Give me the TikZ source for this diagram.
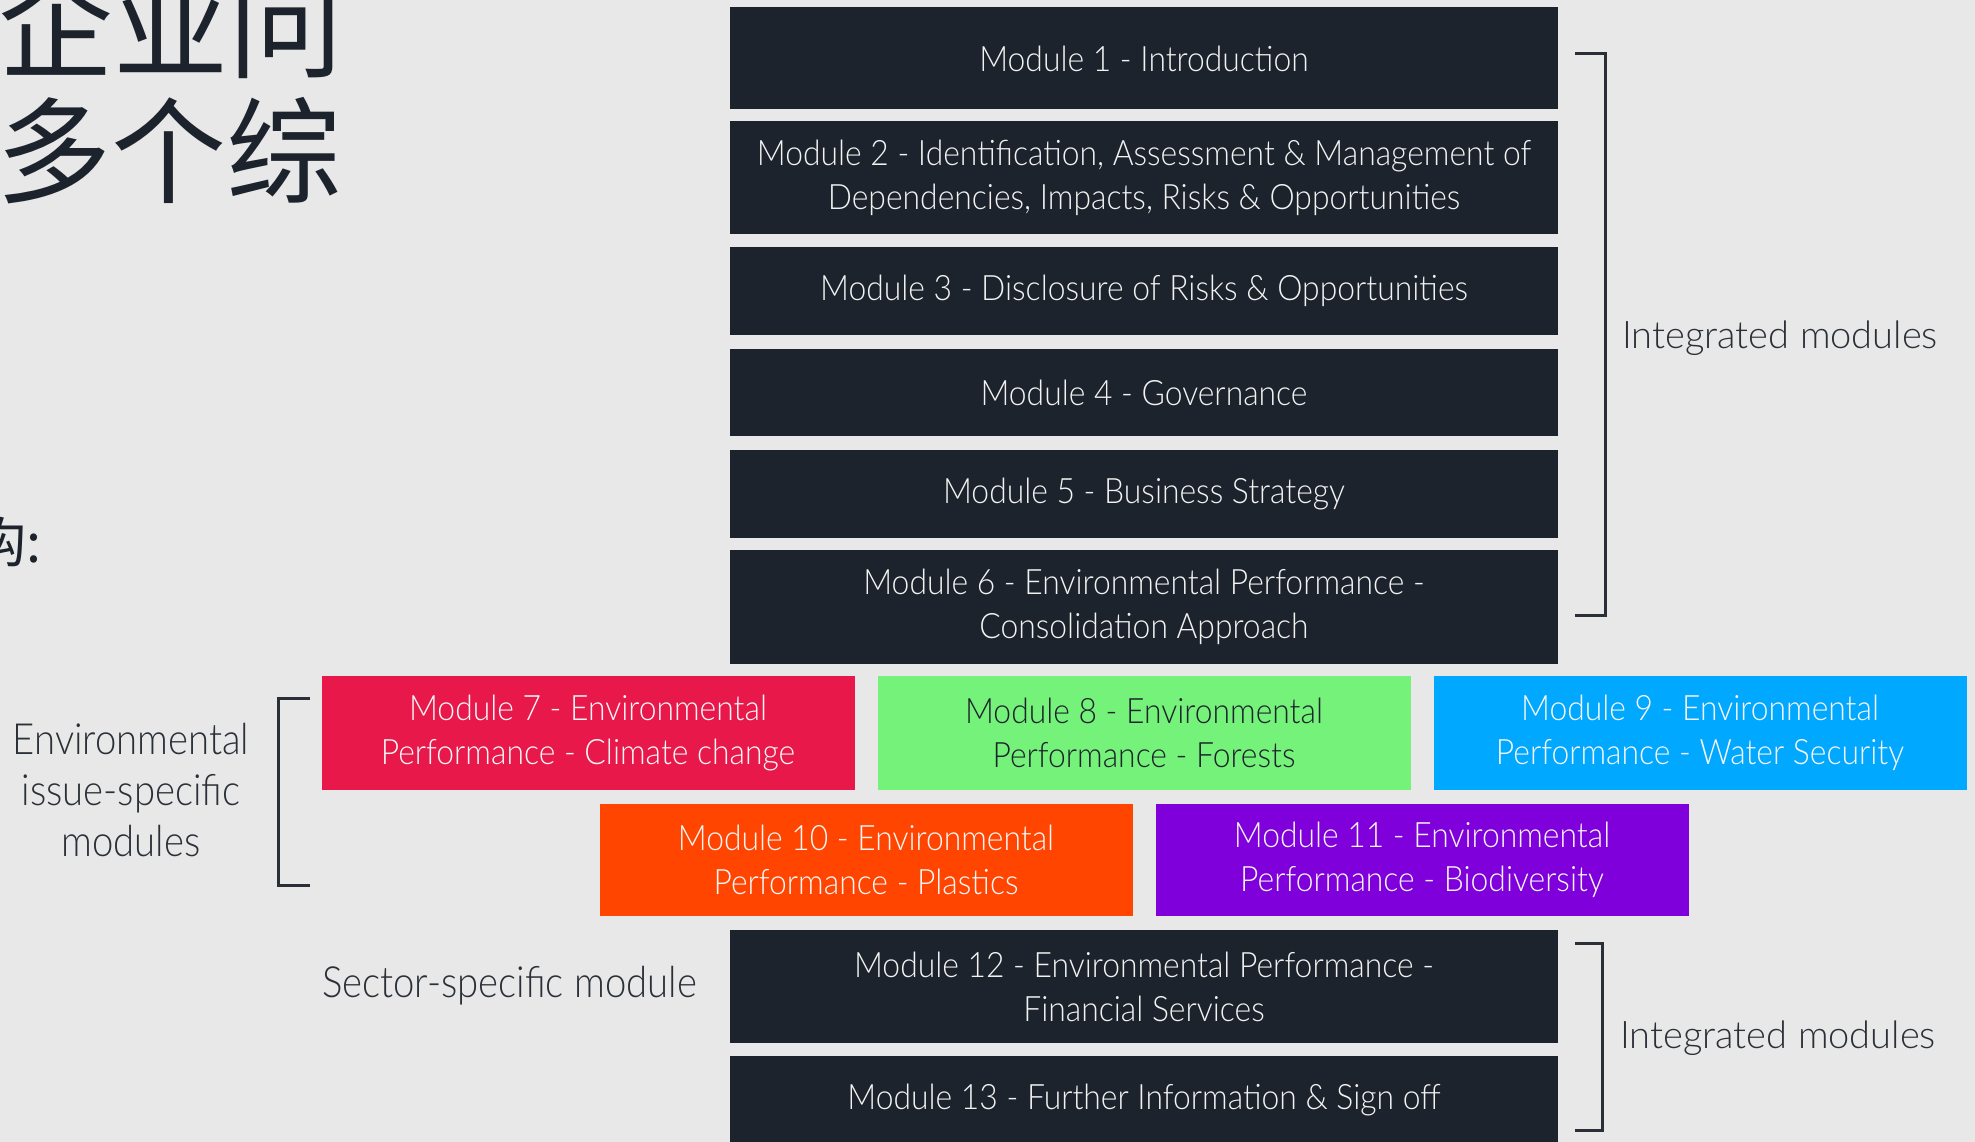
\documentclass[tikz,border=0pt]{standalone}
\usepackage{fontspec}
\setmainfont{Lato}[UprightFont={* Light}]
\newfontfamily\boxfont{Lato}[UprightFont={* Light},FakeStretch=0.91]
\newfontfamily\leftfont{Lato}[UprightFont={* Light},FakeStretch=0.89]
\newfontfamily\cjk{Noto Sans CJK SC}
\definecolor{bg}{HTML}{E7E8E7}
\definecolor{dark}{HTML}{1D232C}
\definecolor{labelc}{HTML}{2B3038}
\definecolor{mred}{HTML}{E8184A}
\definecolor{mgreen}{HTML}{74F27A}
\definecolor{mblue}{HTML}{00A8FF}
\definecolor{morange}{HTML}{FF4500}
\definecolor{mpurple}{HTML}{7F00DA}
\tikzset{
  modbox/.style={rectangle, fill=dark, text=white!95!black, inner sep=0pt,
    minimum width=828pt, align=center,
    font=\boxfont\fontsize{35}{44}\selectfont},
  envbox/.style={rectangle, inner sep=0pt, text=white!97!black,
    minimum width=533pt, minimum height=113pt, align=center,
    font=\boxfont\fontsize{35}{44}\selectfont},
  bracketline/.style={draw=labelc, line width=3pt},
  sidelabel/.style={text=labelc, inner sep=0pt, font=\fontsize{38}{44}\selectfont},
  leftlabel/.style={text=labelc, inner sep=0pt, align=center, font=\leftfont\fontsize{43}{51}\selectfont},
  cjktext/.style={text=dark, inner sep=0pt, font=\cjk\fontsize{115}{125}\selectfont}
}
\begin{document}
\begin{tikzpicture}[x=1pt,y=-1pt]
\useasboundingbox (0,0) rectangle (1975,1142);
\clip (0,0) rectangle (1975,1142);
\fill[bg] (0,0) rectangle (1975,1142);

% cut-off Chinese title
\node[cjktext, anchor=base west] (t1) at (-2,70) {企业问};
\node[cjktext, anchor=base west] (t2) at (-4,195) {多个综};
\node[cjktext, anchor=base west, font=\cjk\fontsize{54}{60}\selectfont] (t3) at (-28,562) {构:};

% integrated modules
\node[modbox, minimum height=102pt] (m1) at (1144,58.5) {Module 1 - Introduction};
\node[modbox, minimum height=113pt] (m2) at (1144,177.5) {Module 2 - Identification, Assessment \& Management of\\Dependencies, Impacts, Risks \& Opportunities};
\node[modbox, minimum height=88pt] (m3) at (1144,291) {Module 3 - Disclosure of Risks \& Opportunities};
\node[modbox, minimum height=87pt] (m4) at (1144,392.5) {Module 4 - Governance};
\node[modbox, minimum height=88pt] (m5) at (1144,494) {Module 5 - Business Strategy};
\node[modbox, minimum height=114pt] (m6) at (1144,607) {Module 6 - Environmental Performance -\\Consolidation Approach};

% environmental issue-specific
\node[envbox, fill=mred, minimum height=114pt] (m7) at (588,733) {Module 7 - Environmental\\Performance - Climate change};
\node[envbox, fill=mgreen, text=dark, minimum height=114pt] (m8) at (1144,733) {Module 8 - Environmental\\Performance - Forests};
\node[envbox, fill=mblue, minimum height=114pt] (m9) at (1700,733) {Module 9 - Environmental\\Performance - Water Security};
\node[envbox, fill=morange, minimum height=112pt] (m10) at (866,860) {Module 10 - Environmental\\Performance - Plastics};
\node[envbox, fill=mpurple, minimum height=112pt] (m11) at (1422,860) {Module 11 - Environmental\\Performance - Biodiversity};

% sector specific + final
\node[modbox, minimum height=113pt] (m12) at (1144,986.5) {Module 12 - Environmental Performance -\\Financial Services};
\node[modbox, minimum height=88pt] (m13) at (1144,1100) {Module 13 - Further Information \& Sign off};

% brackets
\coordinate (b1a) at (1575,54);
\coordinate (b1b) at (1575,615);
\draw[bracketline] (b1a) -- ++(30,0) |- (b1b);
\coordinate (b2a) at (1575,943);
\coordinate (b2b) at (1575,1130);
\draw[bracketline] (b2a) -- ++(27,0) |- (b2b);
\coordinate (b3a) at (310,698);
\coordinate (b3b) at (310,885);
\draw[bracketline] (b3a) -- ++(-32,0) |- (b3b);

% labels
\node[sidelabel, anchor=west] (l1) at (1622,338) {Integrated modules};
\node[sidelabel, anchor=west] (l2) at (1620,1038) {Integrated modules};
\node[leftlabel] (l3) at (131,790) {Environmental\\issue-specific\\modules};
\node[leftlabel, anchor=west] (l4) at (322,986) {Sector-specific module};
\end{tikzpicture}
\end{document}
